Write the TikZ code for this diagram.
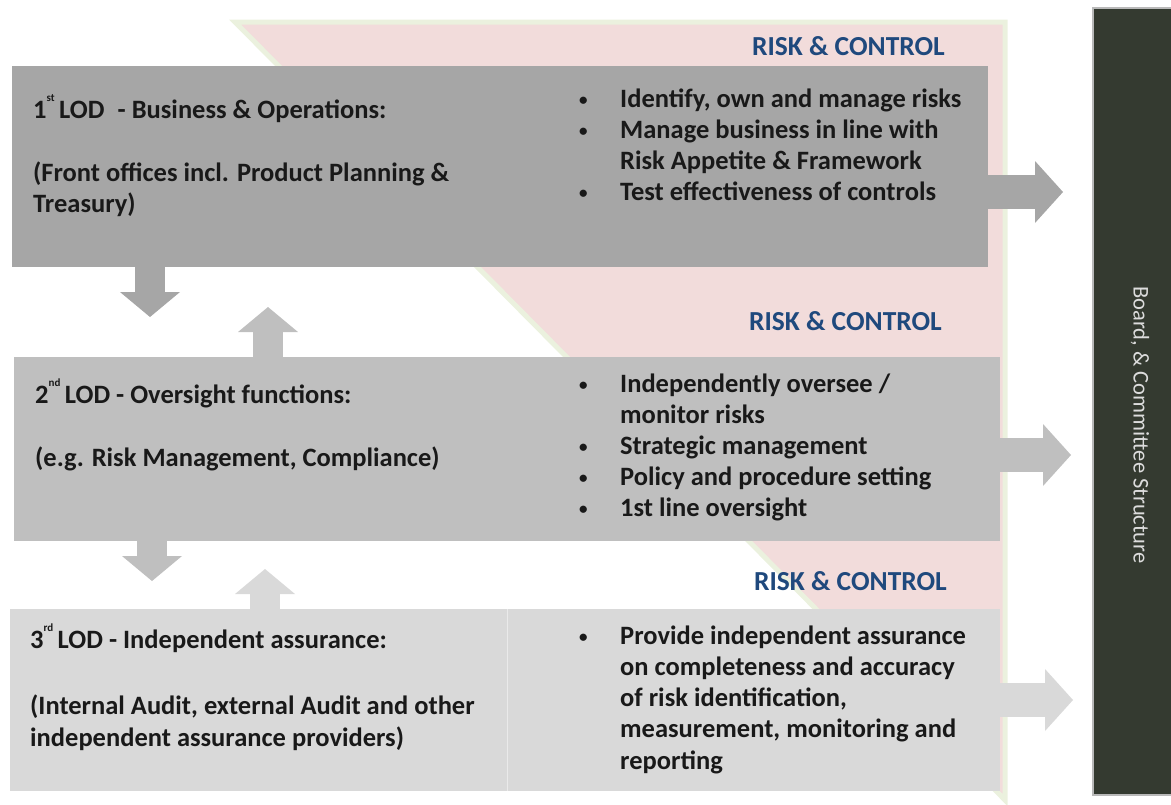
\documentclass[tikz,border=0pt]{standalone}
\usepackage{fontspec}
\setmainfont{Carlito}
\usetikzlibrary{arrows.meta}
\definecolor{boxA}{HTML}{A6A6A6}
\definecolor{boxB}{HTML}{BFBFBF}
\definecolor{boxC}{HTML}{D9D9D9}
\definecolor{pinkfill}{HTML}{F2DCDB}
\definecolor{greenedge}{HTML}{EBF1DE}
\definecolor{riskblue}{HTML}{1F497D}
\definecolor{boardfill}{HTML}{343A30}
\definecolor{boardtext}{HTML}{DCDCDC}
\newcommand\supr[1]{\raisebox{0.62em}{\fontsize{11}{11}\selectfont #1}}
\tikzset{
  lodbox/.style={anchor=north west, inner sep=0pt, outer sep=0pt},
  txt/.style={anchor=west, inner sep=0pt, text height=18pt, text depth=6pt,
    font=\fontsize{26.5}{31}\selectfont\bfseries, text=black!90},
  bul/.style={anchor=west, inner sep=0pt, text height=9pt, text depth=0pt,
    font=\fontsize{17}{17}\selectfont\bfseries, text=black!90},
  risk/.style={anchor=east, inner sep=0pt, text height=17pt, text depth=0pt,
    font=\fontsize{27.5}{31}\selectfont\bfseries, text=riskblue},
  vshaft/.style={line width=30pt, shorten >=#1,
    -{Triangle[length=25pt,width=60pt,line width=0pt]}},
  hshaft/.style={line width=34pt, shorten >=#1,
    -{Triangle[length=28pt,width=62pt,line width=0pt]}},
}
\begin{document}
\begin{tikzpicture}[x=1pt,y=-1pt]
\useasboundingbox (0,0) rectangle (1171,804);
% risk & control triangle
\fill[pinkfill, draw=greenedge, line width=5pt, line join=miter]
  (235,22) -- (1005,22) -- (1005,800) -- cycle;
% boxes
\node[lodbox, fill=boxA, minimum width=976pt, minimum height=201pt] (b1) at (12,66) {};
\node[lodbox, fill=boxB, minimum width=986pt, minimum height=184pt] (b2) at (14,357) {};
\node[lodbox, fill=boxC, minimum width=990pt, minimum height=182pt] (b3) at (10,609) {};
\draw[white!45!boxC, line width=1pt] (b3.north -| 507,0) -- (b3.south -| 507,0);
% board bar
\node[lodbox, fill=boardfill, draw=gray!55, line width=1.5pt, minimum width=80pt, minimum height=787pt] (board) at (1093,8) {};
\node[rotate=-90, font=\fontsize{22.5}{26}\selectfont, text=boardtext, inner sep=0pt] (boardtxt) at (1140,425) {Board, \& Committee Structure};
% risk labels
\node[risk] (rc1) at (945,47) {RISK \& CONTROL};
\node[risk] (rc2) at (942,322) {RISK \& CONTROL};
\node[risk] (rc3) at (947,582) {RISK \& CONTROL};
% box 1 text
\node[txt] (l1a) at (33,112) {1\supr{st}\,LOD\enspace- Business \& Operations:};
\node[txt] (l1b) at (33,175) {(Front offices incl. Product Planning \&};
\node[txt] (l1c) at (33,206) {Treasury)};
\node[bul] (d1a) at (579,101) {•};
\node[bul] (d1b) at (579,132) {•};
\node[bul] (d1c) at (579,194) {•};
\node[txt] (r1a) at (620,101) {Identify, own and manage risks};
\node[txt] (r1b) at (620,132) {Manage business in line with};
\node[txt] (r1c) at (620,163) {Risk Appetite \& Framework};
\node[txt] (r1d) at (620,194) {Test effectiveness of controls};
% box 2 text
\node[txt] (l2a) at (35,397) {2\supr{nd}\,LOD - Oversight functions:};
\node[txt] (l2b) at (35,460) {(e.g. Risk Management, Compliance)};
\node[bul] (d2a) at (579,386) {•};
\node[bul] (d2b) at (579,448) {•};
\node[bul] (d2c) at (579,479) {•};
\node[bul] (d2d) at (579,510) {•};
\node[txt] (r2a) at (620,386) {Independently oversee /};
\node[txt] (r2b) at (620,417) {monitor risks};
\node[txt] (r2c) at (620,448) {Strategic management};
\node[txt] (r2d) at (620,479) {Policy and procedure setting};
\node[txt] (r2e) at (620,510) {1st line oversight};
% box 3 text
\node[txt] (l3a) at (30,642) {3\supr{rd}\,LOD - Independent assurance:};
\node[txt] (l3b) at (30,708) {(Internal Audit, external Audit and other};
\node[txt] (l3c) at (30,740) {independent assurance providers)};
\node[bul] (d3a) at (579,638) {•};
\node[txt] (r3a) at (620,638) {Provide independent assurance};
\node[txt] (r3b) at (620,669) {on completeness and accuracy};
\node[txt] (r3c) at (620,700) {of risk identification,};
\node[txt] (r3d) at (620,731) {measurement, monitoring and};
\node[txt] (r3e) at (620,763) {reporting};
% arrow coordinates
\coordinate (xd1) at (150,0);
\coordinate (xu1) at (268,0);
\coordinate (xd2) at (152,0);
\coordinate (xu2) at (265,0);
\coordinate (ya1) at (0,192);
\coordinate (ya2) at (0,455);
\coordinate (ya3) at (0,700);
% vertical arrows
\draw[boxA, vshaft=40pt] (b1.south -| xd1) -- (b2.north -| xd1);
\draw[boxB, vshaft=40pt] (b2.north -| xu1) -- (b1.south -| xu1);
\draw[boxB, vshaft=28pt] (b2.south -| xd2) -- (b3.north -| xd2);
\draw[boxC, vshaft=28pt] (b3.north -| xu2) -- (b2.south -| xu2);
% right arrows
\draw[boxA, hshaft=30pt] (b1.east |- ya1) -- (board.west |- ya1);
\draw[boxB, hshaft=22pt] (b2.east |- ya2) -- (board.west |- ya2);
\draw[boxC, hshaft=20pt] (b3.east |- ya3) -- (board.west |- ya3);
\end{tikzpicture}
\end{document}
